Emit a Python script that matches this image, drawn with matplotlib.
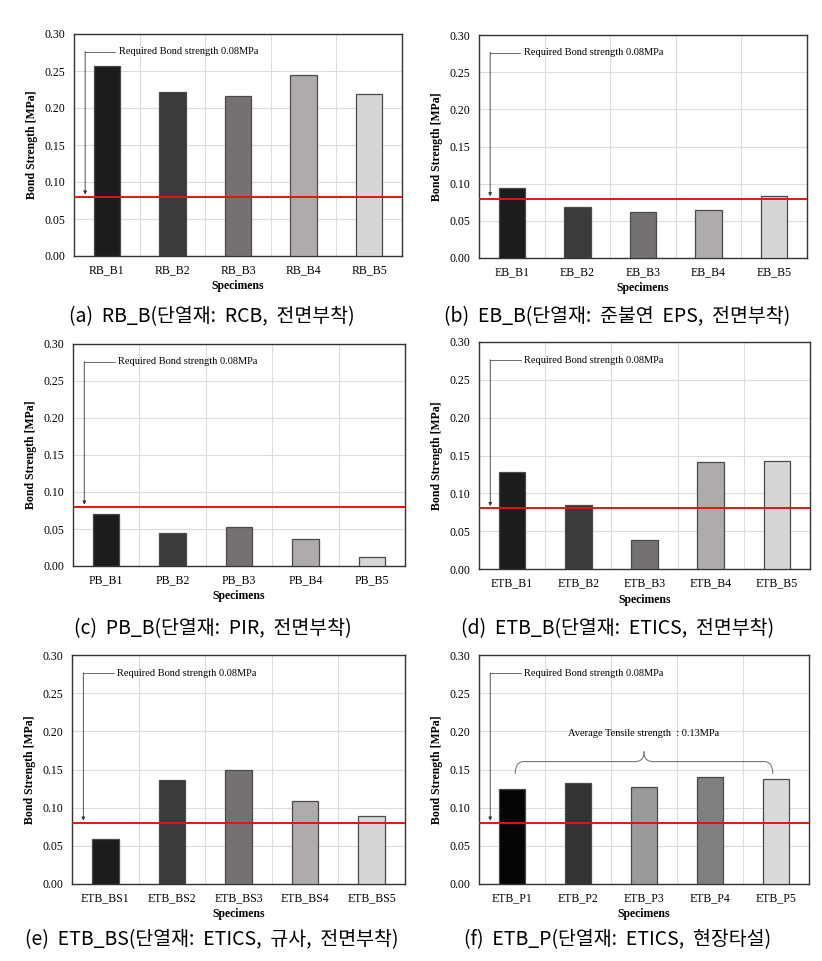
import numpy as np
import matplotlib
matplotlib.use("Agg")
import matplotlib.pyplot as plt

# ── data ─────────────────────────────────────────────
RB_LABELS = ["RB_B1", "RB_B2", "RB_B3", "RB_B4", "RB_B5"]
RB_VALUES = [0.257, 0.222, 0.216, 0.244, 0.219]

EB_LABELS = ["EB_B1", "EB_B2", "EB_B3", "EB_B4", "EB_B5"]
EB_VALUES = [0.094, 0.068, 0.062, 0.064, 0.084]

PB_LABELS = ["PB_B1", "PB_B2", "PB_B3", "PB_B4", "PB_B5"]
PB_VALUES = [0.070, 0.045, 0.053, 0.037, 0.012]

ETB_LABELS = ["ETB_B1", "ETB_B2", "ETB_B3", "ETB_B4", "ETB_B5"]
ETB_VALUES = [0.128, 0.085, 0.038, 0.142, 0.143]

BS_LABELS = ["ETB_BS1", "ETB_BS2", "ETB_BS3", "ETB_BS4", "ETB_BS5"]
BS_VALUES = [0.059, 0.136, 0.149, 0.109, 0.089]

P_LABELS = ["ETB_P1", "ETB_P2", "ETB_P3", "ETB_P4", "ETB_P5"]
P_VALUES = [0.125, 0.132, 0.127, 0.140, 0.137]

CAPTIONS = [
    "(a)  RB_B(단열재:  RCB,  전면부착)",
    "(b)  EB_B(단열재:  준불연  EPS,  전면부착)",
    "(c)  PB_B(단열재:  PIR,  전면부착)",
    "(d)  ETB_B(단열재:  ETICS,  전면부착)",
    "(e)  ETB_BS(단열재:  ETICS,  규사,  전면부착)",
    "(f)  ETB_P(단열재:  ETICS,  현장타설)",
]

REQUIRED = 0.08
AVG_TEXT = "Average Tensile strength  : 0.13MPa"

GRAYS = ["#1c1c1c", "#3b3b3b", "#767171", "#afabab", "#d6d6d6"]
GRAYS_P = ["#050505", "#333333", "#9a9a9a", "#7f7f7f", "#dadada"]

SERIF = "Liberation Serif"
KR = ["Noto Sans CJK KR", "DejaVu Sans"]

W, H = 822, 961
fig = plt.figure(figsize=(W / 100, H / 100), dpi=100)

# axes boxes in pixel coords: left, right, top, bottom
BOXES = [
    (74, 402, 34, 256),
    (479, 807, 35, 258),
    (73, 405, 344, 566),
    (479, 810, 342, 569),
    (72, 405, 655, 884),
    (479, 809, 655, 884),
]
CAP_POS = [(212, 317), (617, 317), (213, 629), (618, 629), (212, 940), (618, 940)]


def make_panel(box, labels, values, colors):
    l, r, t, b = box
    ax = fig.add_axes([l / W, 1 - b / H, (r - l) / W, (b - t) / H])
    x = np.arange(len(labels))
    ax.bar(x, values, width=0.4, color=colors, edgecolor="#4a4a4a",
           linewidth=0.9, zorder=3)
    ax.axhline(REQUIRED, color="#e8120c", linewidth=1.4, zorder=4)
    ax.set_xlim(-0.5, len(labels) - 0.5)
    ax.set_ylim(0, 0.30)
    ax.set_yticks(np.arange(0, 0.301, 0.05))
    ax.set_yticklabels([f"{v:.2f}" for v in np.arange(0, 0.301, 0.05)],
                       fontfamily=SERIF, fontsize=8.5)
    ax.set_xticks(x)
    ax.set_xticklabels(labels, fontfamily=SERIF, fontsize=8.5)
    ax.set_xticks(np.arange(0.5, len(labels) - 0.5, 1), minor=True)
    ax.tick_params(which="both", length=0, pad=6)
    ax.grid(axis="y", color="#dcdcdc", linewidth=0.8, zorder=0)
    ax.grid(axis="x", which="minor", color="#dcdcdc", linewidth=0.8, zorder=0)
    ax.set_ylabel("Bond Strength [MPa]", fontfamily=SERIF, fontweight="bold",
                  fontsize=8.5, labelpad=5)
    ax.set_xlabel("Specimens", fontfamily=SERIF, fontweight="bold",
                  fontsize=8.5, labelpad=3)
    for s in ax.spines.values():
        s.set_color("#333333")
        s.set_linewidth(1.0)

    # required bond strength callout
    ya = 0.276
    ax.plot([-0.33, 0.13], [ya, ya], color="#555555", linewidth=0.6, zorder=5)
    ax.annotate("", xy=(-0.33, REQUIRED + 0.003), xytext=(-0.33, ya + 0.0005),
                arrowprops=dict(arrowstyle="-|>", color="#333333", lw=0.6,
                                mutation_scale=5, shrinkA=0, shrinkB=0),
                zorder=5)
    ax.text(0.18, ya, "Required Bond strength 0.08MPa", fontfamily=SERIF,
            fontsize=7.5, va="center", ha="left", zorder=5)
    return ax


def draw_brace(ax, x0, x1, y, h):
    # curly brace opening downward, tip pointing up
    xm = (x0 + x1) / 2
    q = h * 0.55
    t = np.linspace(0, 1, 60)
    k = 0.035 * (x1 - x0)
    pts_x, pts_y = [], []
    seg = [
        ((x0, y), (x0, y + q), (x0 + k, y + q)),
        ((x0 + k, y + q), (xm - k, y + q), None),
        ((xm - k, y + q), (xm, y + q), (xm, y + h)),
    ]
    for a, c, e in seg:
        if e is None:
            pts_x += [a[0], c[0]]
            pts_y += [a[1], c[1]]
        else:
            pts_x += list((1 - t) ** 2 * a[0] + 2 * (1 - t) * t * c[0] + t ** 2 * e[0])
            pts_y += list((1 - t) ** 2 * a[1] + 2 * (1 - t) * t * c[1] + t ** 2 * e[1])
    lx = np.array(pts_x)
    ly = np.array(pts_y)
    ax.plot(lx, ly, color="#777777", linewidth=0.8, zorder=5)
    ax.plot(2 * xm - lx, ly, color="#777777", linewidth=0.8, zorder=5)


panels = [
    (RB_LABELS, RB_VALUES, GRAYS),
    (EB_LABELS, EB_VALUES, GRAYS),
    (PB_LABELS, PB_VALUES, GRAYS),
    (ETB_LABELS, ETB_VALUES, GRAYS),
    (BS_LABELS, BS_VALUES, GRAYS),
    (P_LABELS, P_VALUES, GRAYS_P),
]

axes = []
for box, (labels, values, colors) in zip(BOXES, panels):
    axes.append(make_panel(box, labels, values, colors))

# average brace on (f)
axf = axes[5]
draw_brace(axf, 0.05, 3.95, 0.145, 0.028)
axf.text(2.0, 0.197, AVG_TEXT, fontfamily=SERIF, fontsize=7.5,
         ha="center", va="center", zorder=5)

for (cx, cy), cap in zip(CAP_POS, CAPTIONS):
    fig.text(cx / W, 1 - cy / H, cap, family=KR, fontsize=14,
             ha="center", va="center")

fig.savefig("out.png", dpi=100)
